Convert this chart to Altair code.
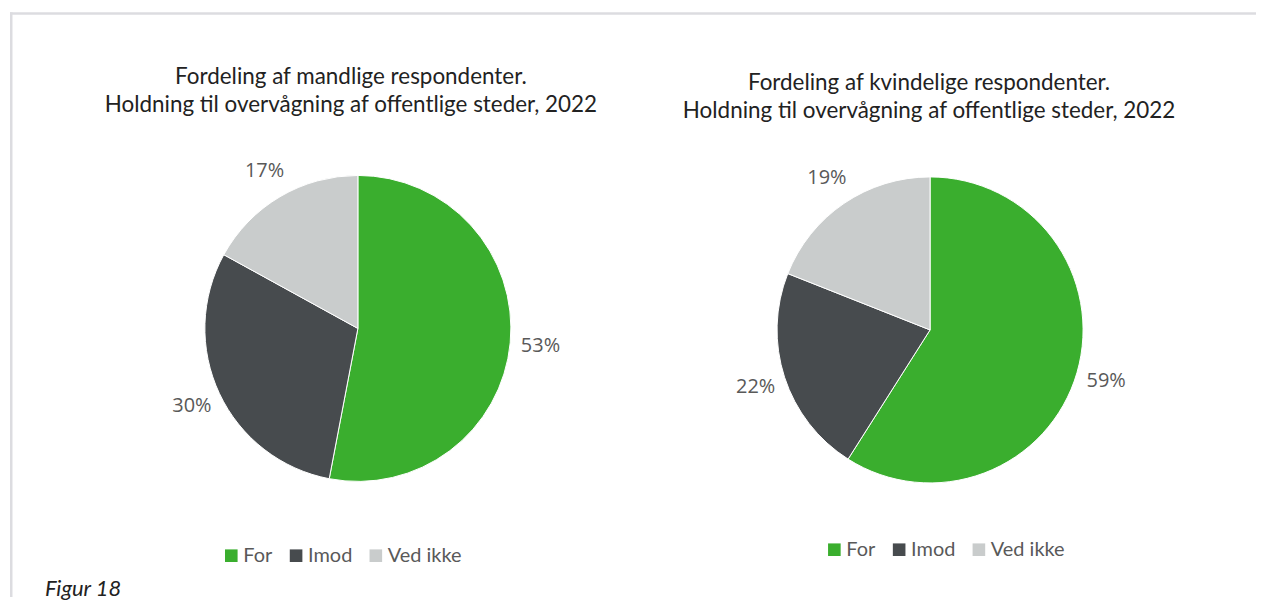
import altair as alt
import pandas as pd

categories = ["For", "Imod", "Ved ikke"]
men_values = [53, 30, 17]
women_values = [59, 22, 19]
colors = ["#3aae2e", "#474b4e", "#c9cccc"]
men_title = ["Fordeling af mandlige respondenter.",
             "Holdning til overvågning af offentlige steder, 2022"]
women_title = ["Fordeling af kvindelige respondenter.",
               "Holdning til overvågning af offentlige steder, 2022"]
caption = "Figur 18"


def make_df(values):
    return pd.DataFrame({
        "category": categories,
        "value": values,
        "order": list(range(len(values))),
        "label": [f"{v}%" for v in values],
    })


def pie(values, title, title_offset, title_dx, legend_x, legend_y, h):
    df = make_df(values)
    base = alt.Chart(df).encode(
        theta=alt.Theta("value:Q", stack=True),
        order=alt.Order("order:Q", sort="ascending"),
    )
    arc = base.mark_arc(outerRadius=153.5, stroke="white", strokeWidth=1).encode(
        color=alt.Color(
            "category:N",
            scale=alt.Scale(domain=categories, range=colors),
            legend=alt.Legend(
                orient="none", legendX=legend_x, legendY=legend_y,
                direction="horizontal", title=None,
                symbolType="square", symbolSize=160, symbolStrokeWidth=0,
                labelFont="Lato", labelFontSize=20, labelColor="#595959",
                columnPadding=13, labelOffset=2,
            ),
        )
    )
    text = base.mark_text(radius=184, font="Open Sans", fontSize=20,
                          color="#595959").encode(text="label:N")
    return alt.layer(arc, text).properties(
        width=310, height=h,
        title=alt.TitleParams(
            text=title, font="Lato", fontSize=22.5, fontWeight="normal",
            color="#222222", lineHeight=28, anchor="middle", frame="group",
            offset=title_offset, dx=title_dx,
        ),
    )


men = pie(men_values, men_title, 44, -7, 18, 373, 310)
women = pie(women_values, women_title, 46, -1, 49, 367, 313)

deco_df = pd.DataFrame({"caption": [caption]})
frame_top = alt.Chart(deco_df).mark_rule(color="#dcdce0", strokeWidth=2.5).encode(
    x=alt.value(-194), x2=alt.value(1056), y=alt.value(-574))
frame_left = alt.Chart(deco_df).mark_rule(color="#dcdce0", strokeWidth=2.5).encode(
    x=alt.value(-192.75), y=alt.value(-575.25), y2=alt.value(11.5))
cap = alt.Chart(deco_df).mark_text(
    align="left", baseline="middle", font="Lato", fontSize=22,
    fontStyle="italic", color="#222222").encode(
    text="caption:N", x=alt.value(-159), y=alt.value(3))
deco = alt.layer(frame_top, frame_left, cap).properties(width=1, height=1)

chart = alt.concat(men, women, deco, columns=2).properties(
    bounds="flush",
    spacing={"row": 100, "column": 264},
    padding={"left": 0, "top": 1.5, "right": 0, "bottom": 0},
).resolve_scale(color="independent").configure_view(strokeWidth=0)

chart.save("out.html", embed_options={"renderer": "svg", "actions": False})
